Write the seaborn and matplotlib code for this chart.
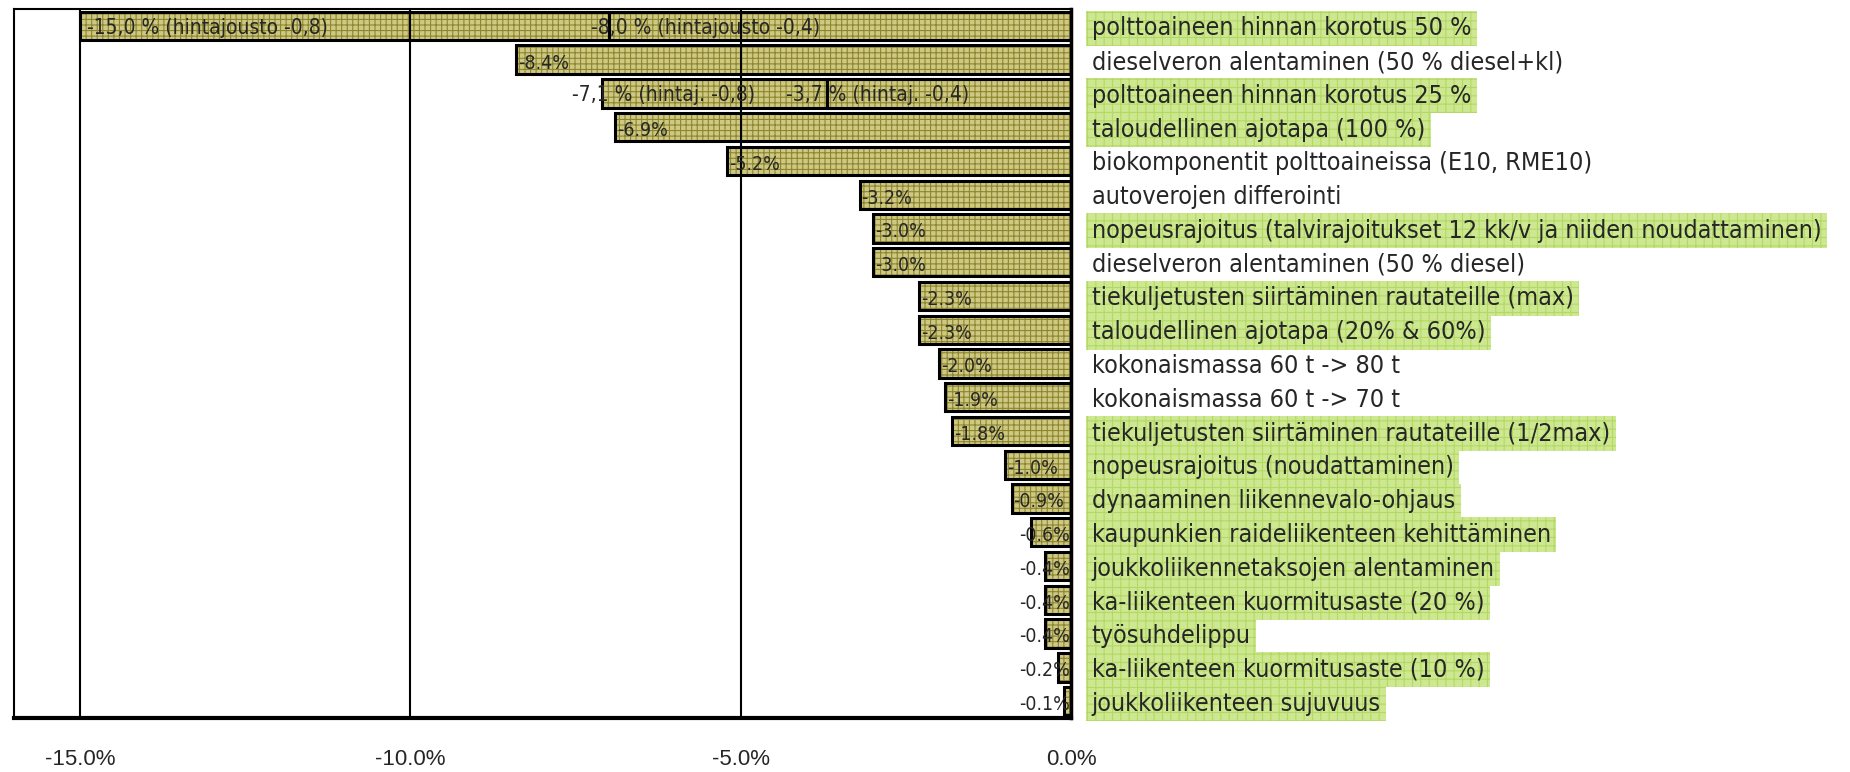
import pandas as pd
import matplotlib
matplotlib.use('Agg')
import matplotlib.pyplot as plt
import seaborn as sns
from matplotlib import font_manager as fm
from matplotlib.patches import Rectangle

# Data
measures = [
    'polttoaineen hinnan korotus 50 %',
    'dieselveron alentaminen (50 % diesel+kl)',
    'polttoaineen hinnan korotus 25 %',
    'taloudellinen ajotapa (100 %)',
    'biokomponentit polttoaineissa (E10, RME10)',
    'autoverojen differointi',
    'nopeusrajoitus (talvirajoitukset 12 kk/v ja niiden noudattaminen)',
    'dieselveron alentaminen (50 % diesel)',
    'tiekuljetusten siirtäminen rautateille (max)',
    'taloudellinen ajotapa (20% & 60%)',
    'kokonaismassa 60 t -> 80 t',
    'kokonaismassa 60 t -> 70 t',
    'tiekuljetusten siirtäminen rautateille (1/2max)',
    'nopeusrajoitus (noudattaminen)',
    'dynaaminen liikennevalo-ohjaus',
    'kaupunkien raideliikenteen kehittäminen',
    'joukkoliikennetaksojen alentaminen',
    'ka-liikenteen kuormitusaste (20 %)',
    'työsuhdelippu',
    'ka-liikenteen kuormitusaste (10 %)',
    'joukkoliikenteen sujuvuus',
]
values = [-15.0, -8.4, -7.1, -6.9, -5.2, -3.2, -3.0, -3.0, -2.3, -2.3, -2.0,
          -1.9, -1.8, -1.0, -0.9, -0.6, -0.4, -0.4, -0.4, -0.2, -0.1]
value_labels = ['-15,0 % (hintajousto -0,8)', '-8.4%', '-7,1 % (hintaj. -0,8)',
                '-6.9%', '-5.2%', '-3.2%', '-3.0%', '-3.0%', '-2.3%', '-2.3%',
                '-2.0%', '-1.9%', '-1.8%', '-1.0%', '-0.9%', '-0.6%', '-0.4%',
                '-0.4%', '-0.4%', '-0.2%', '-0.1%']
# lower price elasticity results for the fuel price rows
alt_values = [-7.0, None, -3.7] + [None] * 18
alt_labels = ['-8,0 % (hintajousto -0,4)', '', '-3,7 % (hintaj. -0,4)'] + [''] * 18
highlighted = [1, 0, 1, 1, 0, 0, 1, 0, 1, 1, 0, 0, 1, 1, 1, 1, 1, 1, 1, 1, 1]
ticks = [-15, -10, -5, 0]
tick_labels = ['-15.0%', '-10.0%', '-5.0%', '0.0%']


def has_family(name):
    try:
        fm.findfont(fm.FontProperties(family=name), fallback_to_default=False)
        return True
    except ValueError:
        return False


# pick a narrow font (Arial Narrow look-alike)
if has_family('Liberation Sans Narrow'):
    narrow = dict(family=['Liberation Sans Narrow', 'DejaVu Sans'])
    lab_size, val_size, fuel_size = 21, 16, 17
elif 'Condensed' in fm.findfont(fm.FontProperties(family='DejaVu Sans', stretch='condensed')):
    narrow = dict(family=['DejaVu Sans'], stretch='condensed')
    lab_size, val_size, fuel_size = 18, 14, 15
else:
    narrow = dict(family=['Liberation Sans', 'DejaVu Sans'])
    lab_size, val_size, fuel_size = 16, 13, 13
plain = ['Liberation Sans', 'DejaVu Sans']

sns.set_style('white')
plt.rcParams['font.family'] = plain
plt.rcParams['hatch.linewidth'] = 0.8

df = pd.DataFrame({'measure': measures, 'value': values, 'alt': alt_values})

fig = plt.figure(figsize=(18.5, 7.72), dpi=100)
ax = fig.add_axes([14 / 1850, 1 - 718 / 772, 1057 / 1850, 709 / 772])

fill_kw = dict(color='#cec882', edgecolor='#8c8630', hatch='+++', linewidth=0,
               width=0.84, saturation=1, errorbar=None, orient='h', order=measures)


def outline(patches):
    for p in patches:
        ax.add_patch(Rectangle(p.get_xy(), p.get_width(), p.get_height(),
                               fill=False, ec='black', lw=2.2, zorder=3))


n0 = len(ax.patches)
sns.barplot(data=df, y='measure', x='value', ax=ax, zorder=2, **fill_kw)
main_bars = ax.patches[n0:]
outline(main_bars)
n1 = len(ax.patches)
sns.barplot(data=df, y='measure', x='alt', ax=ax, zorder=3, **fill_kw)
alt_bars = ax.patches[n1:]
outline(alt_bars)

ax.set_xlim(-16, 0)
ax.set_ylim(20.5, -0.5)
ax.set_xlabel('')
ax.set_ylabel('')

for t in ticks[:-1]:
    ax.axvline(t, color='black', lw=1.5, zorder=4)

# value labels
main_shift = {0: 0.1, 2: -0.45}
alt_shift = {0: -0.26, 2: -0.62}
for i, (v, lab) in enumerate(zip(values, value_labels)):
    if i in main_shift:
        ax.text(v + main_shift[i], i + 0.05, lab, ha='left', va='center',
                fontsize=fuel_size, zorder=5, **narrow)
    elif v <= -0.85:
        ax.text(v + 0.03, i + 0.1, lab, ha='left', va='center',
                fontsize=val_size, zorder=5, **narrow)
    else:
        ax.text(-0.02, i + 0.1, lab, ha='right', va='center',
                fontsize=val_size, zorder=5, **narrow)
for i, (v, lab) in enumerate(zip(alt_values, alt_labels)):
    if v is not None:
        ax.text(v + alt_shift[i], i + 0.05, lab, ha='left', va='center',
                fontsize=fuel_size, zorder=5, **narrow)

# category labels on the right
ax.yaxis.tick_right()
ax.set_yticks(range(len(measures)), measures)
ax.tick_params(axis='y', length=0, pad=15, labelsize=lab_size)
for lab, hl in zip(ax.get_yticklabels(), highlighted):
    lab.set_fontfamily(narrow['family'])
    if 'stretch' in narrow:
        lab.set_fontstretch(narrow['stretch'])
    if hl:
        lab.set_bbox(dict(boxstyle='square,pad=0.22', facecolor='#cde890',
                          edgecolor='#b3d865', hatch='++', linewidth=0))

ax.set_xticks(ticks, tick_labels)
ax.tick_params(axis='x', length=0, pad=22, labelsize=16)

for side in ['left', 'top']:
    ax.spines[side].set_linewidth(1.5)
ax.spines['bottom'].set_linewidth(3)
ax.spines['right'].set_linewidth(2.5)
for s in ax.spines.values():
    s.set_color('black')
    s.set_zorder(6)

fig.savefig('out.png', dpi=100)
